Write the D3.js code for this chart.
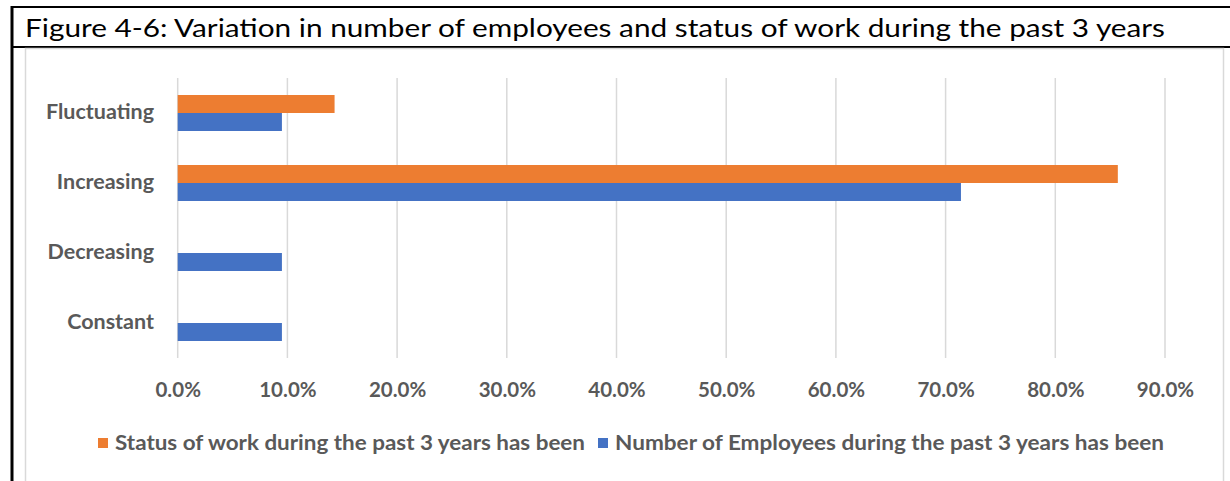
<!DOCTYPE html>
<html>
<head>
<meta charset="utf-8">
<script src="https://cdn.jsdelivr.net/npm/d3@7/dist/d3.min.js"></script>
<style>
  html, body { margin: 0; padding: 0; background: #fff; }
  svg { display: block; }
</style>
</head>
<body>
<svg id="chart" width="1230" height="481"></svg>
<script>
// Figure data
const title = "Figure 4-6: Variation in number of employees and status of work during the past 3 years";
const categories = ["Fluctuating", "Increasing", "Decreasing", "Constant"];
const seriesNames = [
  "Status of work during the past 3 years has been",
  "Number of Employees during the past 3 years has been"
];
const statusOfWork = [0.143, 0.857, 0, 0];
const numberOfEmployees = [0.095, 0.714, 0.095, 0.095];
const tickValues = [0, 0.1, 0.2, 0.3, 0.4, 0.5, 0.6, 0.7, 0.8, 0.9];

const colors = ["#ED7D31", "#4472C4"];
const textGray = "#595959";
const gridGray = "#d9d9d9";
const font = "Lato, 'Open Sans', sans-serif";

const svg = d3.select("#chart");

// Frame: black outer border with title strip, grey chart area
svg.append("line").attr("x1", 12).attr("x2", 12).attr("y1", 6).attr("y2", 481)
  .attr("stroke", "#000").attr("stroke-width", 3);
svg.append("line").attr("x1", 11).attr("x2", 1230).attr("y1", 7).attr("y2", 7)
  .attr("stroke", "#000").attr("stroke-width", 2);
svg.append("line").attr("x1", 11).attr("x2", 1230).attr("y1", 47).attr("y2", 47)
  .attr("stroke", "#000").attr("stroke-width", 2);
svg.append("rect").attr("x", 25.5).attr("y", 48.5).attr("width", 1198).attr("height", 440)
  .attr("fill", "none").attr("stroke", gridGray).attr("stroke-width", 1.5);

svg.append("text")
  .attr("x", 25).attr("y", 37)
  .attr("font-family", font).attr("font-size", 25).attr("fill", "#000")
  .attr("textLength", 1140).attr("lengthAdjust", "spacingAndGlyphs")
  .text(title);

// Scales
const x = d3.scaleLinear().domain([0, 0.9]).range([177.7, 1165]);
const y = d3.scaleBand().domain(categories).range([78, 358]);
const barH = 18;

// Gridlines
const g = svg.append("g");
g.selectAll("line.grid").data(tickValues).join("line")
  .attr("class", "grid")
  .attr("x1", d => x(d)).attr("x2", d => x(d))
  .attr("y1", y.range()[0]).attr("y2", y.range()[1])
  .attr("stroke", gridGray).attr("stroke-width", 1.5);

// Bars
const rows = categories.map((c, i) => ({ c, v: [statusOfWork[i], numberOfEmployees[i]] }));
rows.forEach(r => {
  const mid = y(r.c) + y.bandwidth() / 2;
  r.v.forEach((v, s) => {
    if (v <= 0) return;
    g.append("rect")
      .attr("x", x(0)).attr("y", mid - barH + s * barH)
      .attr("width", x(v) - x(0)).attr("height", barH)
      .attr("fill", colors[s]);
  });
});

// Category axis labels
const yAxis = d3.axisLeft(y).tickSize(0).tickPadding(0);
const ya = svg.append("g").attr("transform", "translate(154,0)").call(yAxis);
ya.select(".domain").remove();
ya.selectAll("text")
  .attr("font-family", font).attr("font-weight", "bold").attr("font-size", 21.5)
  .attr("fill", textGray).attr("dy", "0.3em");

// Value axis labels
const xAxis = d3.axisBottom(x).tickValues(tickValues).tickSize(0).tickPadding(0)
  .tickFormat(d3.format(".1%"));
const xa = svg.append("g").attr("transform", "translate(0,390)").call(xAxis);
xa.select(".domain").remove();
xa.selectAll("text")
  .attr("font-family", font).attr("font-weight", "bold").attr("font-size", 20.5)
  .attr("fill", textGray).attr("dy", "0.35em");

// Legend
const legendItems = [
  { name: seriesNames[0], color: colors[0], sx: 98, tx: 115, w: 470 },
  { name: seriesNames[1], color: colors[1], sx: 598, tx: 615, w: 549 }
];
const lg = svg.append("g");
legendItems.forEach(it => {
  lg.append("rect").attr("x", it.sx).attr("y", 438).attr("width", 10).attr("height", 10)
    .attr("fill", it.color);
  lg.append("text").attr("x", it.tx).attr("y", 443).attr("dy", "0.35em")
    .attr("font-family", font).attr("font-weight", "bold").attr("font-size", 20)
    .attr("fill", textGray)
    .attr("textLength", it.w).attr("lengthAdjust", "spacingAndGlyphs")
    .text(it.name);
});
</script>
</body>
</html>
